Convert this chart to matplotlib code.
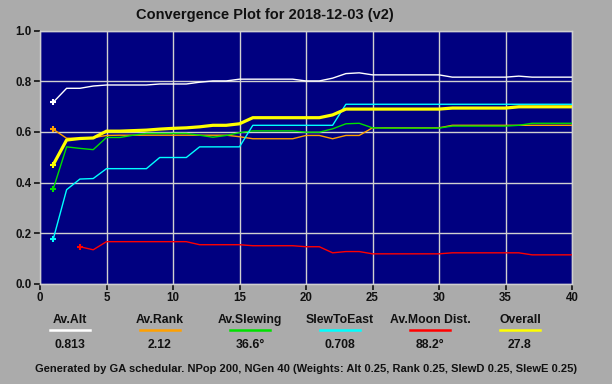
import numpy as np
import matplotlib
matplotlib.use("Agg")
import matplotlib.pyplot as plt

plt.rcParams['font.family'] = ['Liberation Sans', 'DejaVu Sans']

# --- data (generation 1..40) ---
generations = list(range(1, 41))

av_alt = [0.717, 0.772, 0.772, 0.781, 0.785, 0.785, 0.785, 0.785, 0.789, 0.789,
          0.789, 0.796, 0.801, 0.801, 0.808, 0.808, 0.808, 0.808, 0.808, 0.801,
          0.801, 0.812, 0.830, 0.833, 0.825, 0.825, 0.825, 0.825, 0.825, 0.825,
          0.816, 0.816, 0.816, 0.816, 0.816, 0.820, 0.816, 0.816, 0.816, 0.816]

av_rank = [0.610, 0.575, 0.575, 0.577, 0.586, 0.587, 0.587, 0.587, 0.587, 0.587,
           0.587, 0.587, 0.587, 0.587, 0.581, 0.573, 0.573, 0.573, 0.573, 0.586,
           0.586, 0.573, 0.586, 0.586, 0.616, 0.616, 0.616, 0.616, 0.616, 0.616,
           0.626, 0.626, 0.626, 0.626, 0.626, 0.626, 0.626, 0.626, 0.626, 0.626]

av_slewing = [0.376, 0.541, 0.535, 0.530, 0.578, 0.578, 0.587, 0.594, 0.594, 0.594,
              0.594, 0.587, 0.579, 0.586, 0.597, 0.604, 0.604, 0.604, 0.604, 0.599,
              0.599, 0.612, 0.632, 0.634, 0.616, 0.615, 0.615, 0.615, 0.615, 0.615,
              0.623, 0.623, 0.623, 0.623, 0.623, 0.626, 0.634, 0.634, 0.634, 0.634]

slew_to_east = [0.178, 0.372, 0.414, 0.416, 0.455, 0.455, 0.455, 0.455, 0.499, 0.499,
                0.499, 0.541, 0.541, 0.541, 0.541, 0.626, 0.626, 0.626, 0.626, 0.626,
                0.626, 0.626, 0.709, 0.709, 0.709, 0.709, 0.709, 0.709, 0.709, 0.709,
                0.709, 0.709, 0.709, 0.709, 0.709, 0.709, 0.709, 0.709, 0.709, 0.709]

av_moon = [np.nan, np.nan, 0.147, 0.135, 0.167, 0.167, 0.167, 0.167, 0.167, 0.167,
           0.167, 0.155, 0.155, 0.155, 0.155, 0.151, 0.151, 0.151, 0.151, 0.147,
           0.147, 0.123, 0.128, 0.128, 0.119, 0.119, 0.119, 0.119, 0.119, 0.119,
           0.123, 0.123, 0.123, 0.123, 0.123, 0.123, 0.115, 0.115, 0.115, 0.115]

overall = [0.471, 0.568, 0.574, 0.576, 0.603, 0.603, 0.605, 0.607, 0.611, 0.614,
           0.616, 0.620, 0.626, 0.626, 0.632, 0.656, 0.656, 0.656, 0.656, 0.656,
           0.656, 0.667, 0.690, 0.690, 0.690, 0.690, 0.690, 0.690, 0.690, 0.690,
           0.694, 0.694, 0.694, 0.694, 0.694, 0.699, 0.699, 0.699, 0.699, 0.699]

legend_names = ["Av.Alt", "Av.Rank", "Av.Slewing", "SlewToEast", "Av.Moon Dist.", "Overall"]
legend_values = ["0.813", "2.12", "36.6°", "0.708", "88.2°", "27.8"]
colors = ["#FFFFFF", "#FFA000", "#00E000", "#00FFFF", "#FF0000", "#FFFF00"]

series = [av_alt, av_rank, av_slewing, slew_to_east, av_moon, overall]

BG = "#ABABAB"
W, H = 612, 384

fig = plt.figure(figsize=(W / 100, H / 100), dpi=100, facecolor=BG)
ax = fig.add_axes([40 / W, 1 - 284 / H, 532 / W, 253.5 / H])
ax.set_facecolor("#000080")

x = np.array(generations)
for vals, col in zip(series, colors):
    y = np.array(vals, dtype=float)
    is_overall = col == "#FFFF00"
    ax.plot(x, y, color=col, lw=2.3 if is_overall else 1.0, zorder=4 if is_overall else 3)
    # "+" on the first generation of each series
    first = np.where(~np.isnan(y))[0][0]
    ax.plot(x[first], y[first], marker="+", color=col, ms=5, mew=1.5, zorder=5)

ax.set_xlim(0, 40)
ax.set_ylim(0, 1.0)
ax.set_xticks(range(0, 41, 5))
ax.set_yticks(np.arange(0, 1.01, 0.2))
ax.set_yticklabels([f"{v:.1f}" for v in np.arange(0, 1.01, 0.2)])
ax.grid(True, color="#D0D0D0", lw=1.0)
ax.set_axisbelow(True)
ax.tick_params(direction="out", length=4, width=1.2, color="#111111",
               labelsize=8.3, labelcolor="#111111", pad=2)
for lab in ax.get_xticklabels() + ax.get_yticklabels():
    lab.set_fontweight("bold")
for sp in ax.spines.values():
    sp.set_color("#D0D0D0")
    sp.set_linewidth(1.0)

fig.text(265 / W, 1 - 15 / H, "Convergence Plot for 2018-12-03 (v2)",
         ha="center", va="center", fontsize=10.5, fontweight="bold", color="#111111")

# summary row under the plot
for i, (name, val, col) in enumerate(zip(legend_names, legend_values, colors)):
    cx = 70 + 90 * i
    fig.text(cx / W, 1 - 320 / H, name, ha="center", va="center",
             fontsize=8.8, fontweight="bold", color="#111111")
    fig.add_artist(plt.Line2D([(cx - 20) / W, (cx + 20) / W],
                              [1 - 329.5 / H, 1 - 329.5 / H], color=col, lw=1.8))
    fig.text(cx / W, 1 - 344.5 / H, val, ha="center", va="center",
             fontsize=8.8, fontweight="bold", color="#111111")

fig.text(306 / W, 1 - 369 / H,
         "Generated by GA schedular. NPop 200, NGen 40 (Weights: Alt 0.25, Rank 0.25, SlewD 0.25, SlewE 0.25)",
         ha="center", va="center", fontsize=8.0, fontweight="bold", color="#111111")

fig.savefig("out.png", dpi=100, facecolor=BG)
